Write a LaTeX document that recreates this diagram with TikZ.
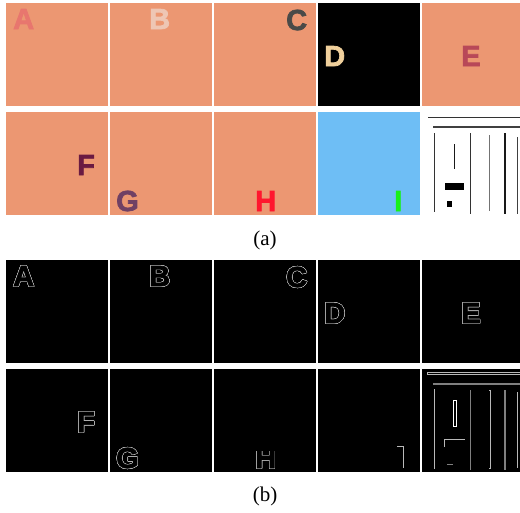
\documentclass[tikz,border=0pt]{standalone}
\usepackage{fontspec}
\setmainfont{Liberation Serif}
\newfontfamily\letterfont[FakeBold=2.5]{Liberation Sans}
\usepackage{contour}
\contourlength{0.45pt}
\contournumber{24}
\definecolor{tilebg}{RGB}{236,151,114}
\definecolor{skyblue}{RGB}{110,190,245}
\definecolor{colA}{RGB}{232,118,110}
\definecolor{colB}{RGB}{238,198,180}
\definecolor{colC}{RGB}{74,74,72}
\definecolor{colD}{RGB}{240,208,156}
\definecolor{colE}{RGB}{184,72,88}
\definecolor{colF}{RGB}{106,26,66}
\definecolor{colG}{RGB}{112,64,100}
\definecolor{colH}{RGB}{255,22,46}
\definecolor{colI}{RGB}{24,240,24}
\definecolor{edgegray}{RGB}{185,185,185}

\begin{document}
\begin{tikzpicture}[x=1pt,y=-1pt]
        \tikzset{tile/.style={inner sep=0,minimum width=102pt,minimum height=103pt,anchor=north west},
                 letter/.style={inner sep=0,anchor=base west,font=\letterfont\bfseries\fontsize{29}{29}\selectfont},
                 edgeletter/.style={letter,text=black},
                 caption/.style={anchor=base,font=\fontsize{21}{21}\selectfont}}
        \useasboundingbox[fill=white] (0,0) rectangle (520,512);
        % (a) input images
        \node[tile,fill=tilebg]  (a1) at (6,3) {};
        \node[tile,fill=tilebg]  (a2) at (110,3) {};
        \node[tile,fill=tilebg]  (a3) at (214,3) {};
        \node[tile,fill=black]   (a4) at (318,3) {};
        \node[tile,fill=tilebg]  (a5) at (422,3) {};
        \node[tile,fill=tilebg]  (a6) at (6,112) {};
        \node[tile,fill=tilebg]  (a7) at (110,112) {};
        \node[tile,fill=tilebg]  (a8) at (214,112) {};
        \node[tile,fill=skyblue] (a9) at (318,112) {};
        \node[tile,fill=white]   (a10) at (422,112) {};
        \node[letter,text=colA] (lA) at (13,29) {A};
        \node[letter,text=colB] (lB) at (149,29) {B};
        \node[letter,text=colC] (lC) at (286,30) {C};
        \node[letter,text=colD] (lD) at (324,66) {D};
        \node[letter,text=colE] (lE) at (461,66) {E};
        \node[letter,text=colF] (lF) at (77,175) {F};
        \node[letter,text=colG] (lG) at (116,211) {G};
        \node[letter,text=colH] (lH) at (255,211) {H};
        \node[letter,text=colI] (lI) at (394,211) {I};
        % line drawing
        \draw[black!80,line width=0.9pt] (428,117) -- (520,117);
        \draw[black!75,line width=1.8pt] (433,127) -- (520,127);
        \draw[black!80,line width=0.9pt] (434,133) -- (434,212);
        \draw[black!80,line width=0.9pt] (470,133) -- (470,214);
        \draw[black!55,line width=0.9pt] (489,135) -- (489,211);
        \draw[black!90,line width=1.1pt] (505,133) -- (505,214);
        \draw[black!75,line width=0.9pt] (517,137) -- (517,214);
        \draw[black!90,line width=1pt] (454,144) -- (454,169);
        \fill[black] (445,183) rectangle (464,190);
        \fill[black] (447,201) rectangle (452,207);
        \node[caption] (capa) at (265,245) {(a)};
        % (b) edge maps
        \foreach \col/\x in {1/6,2/110,3/214,4/318,5/422}{
          \node[tile,fill=black] (b\col) at (\x,260) {};
          \node[tile,fill=black] (c\col) at (\x,369) {};
        }
        \node[edgeletter] (eA) at (13,286) {\contour{edgegray}{A}};
        \node[edgeletter] (eB) at (149,286) {\contour{edgegray}{B}};
        \node[edgeletter] (eC) at (286,287) {\contour{edgegray}{C}};
        \node[edgeletter] (eD) at (324,323) {\contour{edgegray}{D}};
        \node[edgeletter] (eE) at (461,323) {\contour{edgegray}{E}};
        \node[edgeletter] (eF) at (77,432) {\contour{edgegray}{F}};
        \node[edgeletter] (eG) at (116,468) {\contour{edgegray}{G}};
        \node[edgeletter] (eH) at (255,468) {\contour{edgegray}{H}};
        \fill[black] (256,444) rectangle (280,451);
        \draw[edgegray,line width=0.8pt] (397,446) -- (403,446) -- (403,468);
        % edges of the line drawing
        \draw[edgegray,line width=0.6pt] (427,372) rectangle (521,374);
        \draw[gray,line width=2.5pt] (433,384) -- (521,384);
        \draw[edgegray,line width=0.6pt] (434,389) -- (434,469);
        \draw[gray,line width=0.9pt] (470,390) -- (470,470);
        \draw[edgegray,line width=0.6pt] (489,390) -- (490,390) -- (490,468) -- (489,468);
        \draw[gray,line width=1.2pt] (505,390) -- (505,470);
        \draw[edgegray,line width=0.6pt] (517,392) -- (517,468);
        \draw[white,line width=0.7pt] (453,400) rectangle (456,426);
        \draw[edgegray,line width=0.7pt] (444,447) -- (444,439) -- (465,439);
        \draw[gray,line width=0.7pt] (447,464) -- (453,464);
        \node[caption] (capb) at (265,501) {(b)};
    \end{tikzpicture}
\end{document}
